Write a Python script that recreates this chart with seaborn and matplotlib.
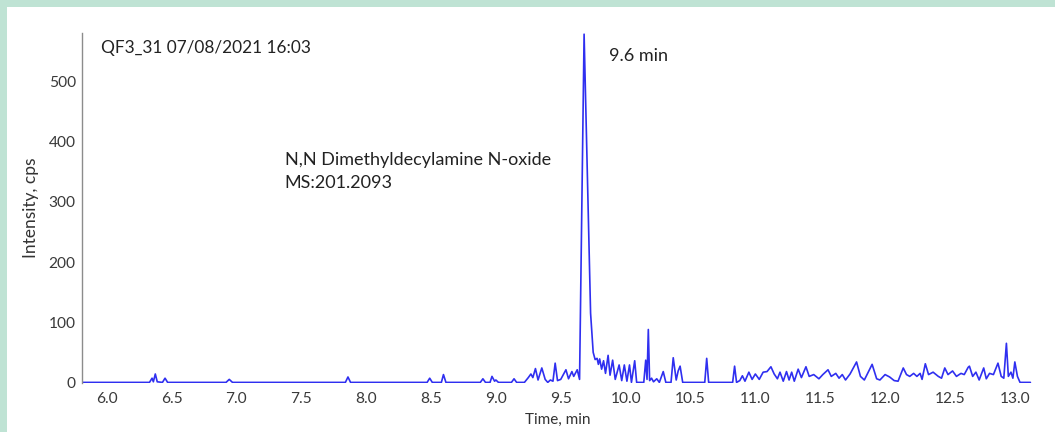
import matplotlib
matplotlib.use("Agg")
import matplotlib.pyplot as plt
import seaborn as sns
from matplotlib.patches import Rectangle

# chromatogram trace (time in min, intensity in cps)
time_min = [
    5.81, 6.33, 6.35, 6.36, 6.375, 6.39, 6.43, 6.45, 6.47,
    6.92, 6.945, 6.97, 7.84, 7.86, 7.88,
    8.47, 8.49, 8.51, 8.58, 8.596, 8.615,
    8.88, 8.90, 8.92, 8.955, 8.97, 8.99, 9.0, 9.02,
    9.12, 9.14, 9.16,
    9.22, 9.25, 9.27, 9.285, 9.305, 9.325, 9.354, 9.38, 9.40, 9.42, 9.44,
    9.457, 9.475, 9.50, 9.54, 9.56, 9.586, 9.60, 9.627, 9.645,
    9.68, 9.73, 9.75, 9.765, 9.78, 9.79, 9.80, 9.815, 9.83, 9.845,
    9.865, 9.88, 9.90, 9.92, 9.95, 9.97, 9.99, 10.01, 10.03, 10.045,
    10.07, 10.085, 10.14, 10.155, 10.165, 10.175, 10.185, 10.20, 10.215,
    10.24, 10.26, 10.29, 10.31, 10.35, 10.367, 10.39, 10.405, 10.42, 10.44,
    10.61, 10.625, 10.64, 10.825, 10.84, 10.855,
    10.88, 10.90, 10.92, 10.95, 10.975, 11.0, 11.03, 11.06, 11.09, 11.12,
    11.145, 11.17, 11.19, 11.215, 11.24, 11.26, 11.28, 11.30, 11.33, 11.355,
    11.39, 11.415, 11.45, 11.49, 11.52, 11.56, 11.585, 11.62, 11.645, 11.67,
    11.695, 11.73, 11.78, 11.81, 11.84, 11.865, 11.90, 11.935, 11.96, 12.0,
    12.035, 12.07, 12.10, 12.14, 12.165, 12.19, 12.22, 12.245, 12.27, 12.285,
    12.31, 12.335, 12.37, 12.41, 12.435, 12.46, 12.485, 12.52, 12.55, 12.585,
    12.61, 12.64, 12.65, 12.675, 12.70, 12.725, 12.76, 12.78, 12.805, 12.835,
    12.87, 12.895, 12.915, 12.935, 12.95, 12.97, 12.985, 13.0, 13.02, 13.04,
    13.12,
]
intensity = [
    0, 0, 7, 1, 14, 1, 0, 7, 0,
    0, 5, 0, 0, 9, 0,
    0, 7, 0, 0, 13, 0,
    0, 6, 0, 0, 10, 2, 4, 0,
    0, 6, 0,
    0, 8, 14, 8, 23, 4, 24, 5, 0, 4, 2,
    32, 3, 5, 21, 6, 18, 10, 21, 5,
    579, 115, 50, 38, 40, 30, 39, 22, 36, 15,
    45, 12, 37, 5, 29, 3, 29, 2, 29, 0,
    36, 0, 0, 37, 5, 88, 3, 7, 1,
    6, 0, 18, 0, 0, 41, 4, 19, 27, 0,
    0, 40, 0, 0, 27, 0,
    3, 11, 2, 17, 5, 14, 5, 17, 18, 26,
    14, 6, 17, 2, 18, 4, 17, 2, 22, 8,
    26, 10, 13, 6, 13, 21, 10, 15, 7, 13,
    4, 14, 34, 10, 4, 15, 30, 6, 4, 13,
    9, 3, 2, 24, 13, 10, 15, 10, 15, 5,
    31, 13, 17, 10, 7, 24, 13, 19, 10, 15,
    13, 25, 27, 10, 17, 4, 24, 6, 15, 13,
    32, 10, 7, 65, 10, 17, 7, 34, 10, 0,
    0,
]

x_ticks = [6.0, 6.5, 7.0, 7.5, 8.0, 8.5, 9.0, 9.5, 10.0, 10.5, 11.0, 11.5, 12.0, 12.5, 13.0]
y_ticks = [0, 100, 200, 300, 400, 500]

sns.set_style("white")
plt.rcParams["font.family"] = ["Lato", "DejaVu Sans"]

fig = plt.figure(figsize=(10.55, 4.32), dpi=100)
fig.patch.set_facecolor("#bfe3d4")
# white panel inside the mint frame
fig.patches.append(Rectangle((7 / 1055, 0), 1, 1 - 7 / 432, transform=fig.transFigure,
                             facecolor="white", edgecolor="none", zorder=-10))

ax = fig.add_axes([82 / 1055, 1 - 383 / 432, 951 / 1055, 350 / 432])
ax.set_facecolor("none")
sns.lineplot(x=time_min, y=intensity, ax=ax, color="#2f2ff0", linewidth=1.2,
             estimator=None, sort=False)

ax.set_xlim(5.81, 13.14)
ax.set_ylim(-1, 581)
ax.set_xticks(x_ticks)
ax.set_xticklabels([f"{t:.1f}" for t in x_ticks])
ax.set_yticks(y_ticks)

for s in ["top", "right", "bottom"]:
    ax.spines[s].set_visible(False)
ax.spines["left"].set_color("#8c8c8c")
ax.spines["left"].set_linewidth(1.0)
ax.tick_params(axis="both", colors="#aaaaaa", length=2.5, width=0.8, labelsize=11.2,
               labelcolor="#3a3a3a", pad=2, direction="out")
ax.tick_params(axis="x", pad=4)

ax.set_xlabel("Time, min", fontsize=11, color="#333333", labelpad=5)
ax.set_ylabel("Intensity, cps", fontsize=12.5, color="#333333", labelpad=7)

ax.text(0.02, 0.957, "QF3_31 07/08/2021 16:03", transform=ax.transAxes,
        fontsize=12.4, color="#222222", va="center", ha="left")
ax.text(7.372, 369, "N,N Dimethyldecylamine N-oxide", fontsize=13,
        color="#222222", va="center", ha="left")
ax.text(7.372, 331, "MS:201.2093", fontsize=13, color="#222222", va="center", ha="left")
ax.text(9.87, 542, "9.6 min", fontsize=13, color="#222222", va="center", ha="left")

fig.savefig("out.png", dpi=100, facecolor=fig.get_facecolor())
